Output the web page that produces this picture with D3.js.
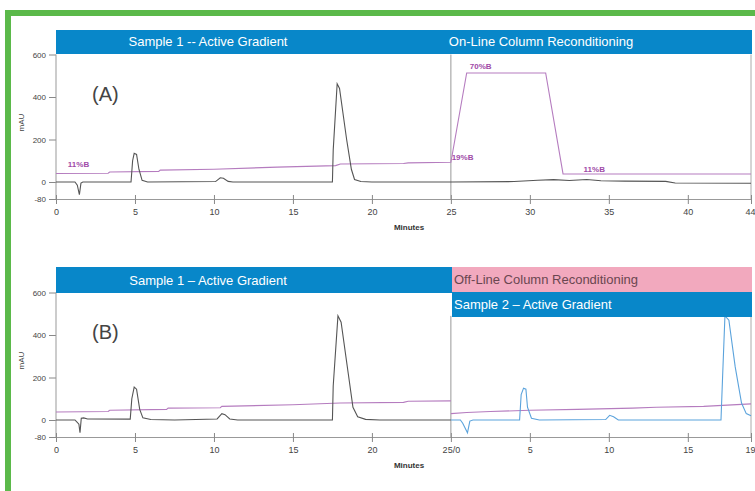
<!DOCTYPE html>
<html>
<head>
<meta charset="utf-8">
<script src="https://cdn.jsdelivr.net/npm/d3@7"></script>
<style>
  body { margin: 0; background: #fff; }
  svg { display: block; font-family: 'Liberation Sans', Arial, sans-serif; }
</style>
</head>
<body>
<div id="chart"></div>
<script>
// minutes on the x axis, mAU on the y axis
const yTicks = [600, 400, 200, 0, -80]
const xTicksA = [0, 5, 10, 15, 20, 25, 30, 35, 40, 44]
const xLabelsA = ['0', '5', '10', '15', '20', '25', '30', '35', '40', '44']
const xTicksB = [0, 5, 10, 15, 20, 25, 30, 35, 40, 44]
const xLabelsB = ['0', '5', '10', '15', '20', '25/0', '5', '10', '15', '19']

// trace A (sample 1 + on-line reconditioning)
const sigA = [[0,0],[1.2,0],[1.35,-15],[1.48,-60],[1.58,-5],[1.7,0],[4.75,0],[4.85,100],[4.95,135],[5.1,130],[5.25,60],[5.45,8],[5.8,0],[10.1,2],[10.4,20],[10.6,18],[10.9,3],[11.2,0],[17.5,0],[17.55,150],[17.8,462],[17.95,440],[18.4,200],[18.7,60],[18.9,12],[19.3,2],[20,0],[25,0],[29,2],[30.5,8],[31.5,11],[32.5,7],[33.6,12],[34.5,6],[36,4],[38.6,3],[39.2,-5],[44,-6]]
const gradA = [[0,40],[3.3,41],[3.4,47],[6.5,50],[6.6,56],[10,60],[14,70],[17.7,77],[18,85],[22,87],[22.3,90],[25,93],[26,513],[31,513],[32.1,38],[44,38]]
const gradLabelsA = [['11%B', 0.75, 70], ['70%B', 26.2, 530], ['19%B', 25.05, 105], ['11%B', 33.4, 48]]

// trace B (sample 1 then sample 2 on the second column)
const sigB1 = [[0,0],[1.2,0],[1.3,-8],[1.45,-20],[1.52,-60],[1.6,8],[1.75,10],[2,5],[4.7,4],[4.8,100],[4.95,155],[5.1,145],[5.3,50],[5.5,10],[6,2],[7.5,0],[10.2,5],[10.5,30],[10.7,25],[11,5],[11.5,0],[17.5,0],[17.55,160],[17.85,490],[18.05,460],[18.5,220],[18.8,60],[19.1,15],[19.6,3],[20.5,0],[25,0]]
const sigB2 = [[25,0],[25.6,0],[25.75,-15],[26.05,-60],[26.2,-5],[26.4,0],[29.35,0],[29.45,120],[29.6,150],[29.75,145],[29.85,60],[30.1,8],[30.6,0],[34.8,2],[35.05,22],[35.3,15],[35.6,0],[42.1,0],[42.2,200],[42.35,490],[42.6,470],[43,250],[43.4,80],[43.7,30],[44,20]]
const gradB1 = [[0,38],[3.3,40],[3.4,46],[7,50],[7.1,56],[10.4,58],[10.5,64],[15,72],[18,80],[22,83],[22.3,88],[25,90]]
const gradB2 = [[25,30],[26,35],[27.5,40],[30,46],[33,50],[36.5,56],[38,60],[41,64],[42.5,70],[44,76]]

const W = 755, H = 491
const svg = d3.select('#chart').append('svg').attr('width', W).attr('height', H)

svg.append('rect').attr('width', W).attr('height', H).attr('fill', '#fff')
// green frame
svg.append('rect')
  .attr('x', 8).attr('y', 13).attr('width', 800).attr('height', 600)
  .attr('fill', 'none').attr('stroke', '#5bb94a').attr('stroke-width', 6)

const x = d3.scaleLinear().domain([0, 44]).range([56, 751])

function panel (top, opts) {
  // top = y pixel of the 600 mAU level
  const y = d3.scaleLinear().domain([0, 600]).range([top + 127.5, top])
  const g = svg.append('g')

  const line = d3.line().x(d => x(d[0])).y(d => y(d[1]))

  // y axis
  const yAxis = d3.axisLeft(y).tickValues(yTicks).tickSize(7).tickFormat(d => d)
  const ya = g.append('g').attr('transform', 'translate(56,0)').call(yAxis)
  ya.select('.domain').remove()
  ya.selectAll('line').attr('stroke', '#888')
  ya.selectAll('text').attr('font-size', 8).attr('fill', '#444').attr('x', -10)
  g.append('line').attr('x1', 56).attr('x2', 56).attr('y1', y(600)).attr('y2', y(-80)).attr('stroke', '#999')
  g.append('line').attr('x1', 751).attr('x2', 751).attr('y1', y(600)).attr('y2', y(-80)).attr('stroke', '#aaa')

  // x axis
  const xAxis = d3.axisBottom(x).tickValues(opts.xTicks).tickSizeInner(5).tickSizeOuter(0)
    .tickFormat((d, i) => opts.xLabels[i])
  const xa = g.append('g').attr('transform', 'translate(0,' + y(-80) + ')').call(xAxis)
  xa.select('.domain').attr('stroke', '#999')
  xa.selectAll('line').attr('stroke', '#888').attr('y1', -4)
  xa.selectAll('text').attr('font-size', 9).attr('fill', '#444').attr('dy', '0.9em')
  // keep the last label inside the frame
  xa.selectAll('.tick').filter(d => d === 44).select('text')
    .attr('text-anchor', 'end').attr('dx', 4)
  g.append('text').attr('x', 409).attr('y', y(-80) + 31).attr('text-anchor', 'middle')
    .attr('font-size', 8).attr('fill', '#333').attr('font-weight', 'bold').text('Minutes')

  g.append('text').attr('transform', 'translate(24,' + y(280) + ') rotate(-90)')
    .attr('text-anchor', 'middle').attr('font-size', 8).attr('fill', '#444').text('mAU')

  // divider at 25 min
  g.append('line').attr('x1', x(25)).attr('x2', x(25)).attr('y1', y(opts.dividerTop)).attr('y2', y(-80))
    .attr('stroke', '#999')

  g.append('text').attr('x', 92).attr('y', y(380)).attr('font-size', 20).attr('fill', '#444')
    .text(opts.tag)

  opts.grads.forEach(gr => {
    g.append('path').datum(gr).attr('d', line).attr('fill', 'none')
      .attr('stroke', '#b57cbf').attr('stroke-width', 1.1)
  })
  opts.sigs.forEach((s, i) => {
    g.append('path').datum(s).attr('d', line).attr('fill', 'none')
      .attr('stroke', opts.sigColors[i]).attr('stroke-width', 1.1)
  })
  return { g, y }
}

// ----- panel A
const pa = panel(54.5, {
  xTicks: xTicksA, xLabels: xLabelsA, tag: '(A)', dividerTop: 600,
  grads: [gradA], sigs: [sigA], sigColors: ['#555']
})
pa.g.append('rect').attr('x', 56).attr('y', 30).attr('width', 696).attr('height', 24).attr('fill', '#0887c9')
pa.g.append('text').attr('x', 208).attr('y', 46).attr('text-anchor', 'middle').attr('fill', '#fff')
  .attr('font-size', 13).text('Sample 1 -- Active Gradient')
pa.g.append('text').attr('x', 541).attr('y', 46).attr('text-anchor', 'middle').attr('fill', '#fff')
  .attr('font-size', 13).text('On-Line Column Reconditioning')
gradLabelsA.forEach(l => {
  pa.g.append('text').attr('x', x(l[1])).attr('y', pa.y(l[2])).attr('font-size', 8)
    .attr('font-weight', 'bold').attr('fill', '#a04aa8').text(l[0])
})

// ----- panel B
const pb = panel(292.5, {
  xTicks: xTicksB, xLabels: xLabelsB, tag: '(B)', dividerTop: 490,
  grads: [gradB1, gradB2], sigs: [sigB1, sigB2], sigColors: ['#555', '#5ba3dc']
})
pb.g.append('rect').attr('x', 56).attr('y', 267).attr('width', 396).attr('height', 26).attr('fill', '#0887c9')
pb.g.append('text').attr('x', 208).attr('y', 285).attr('text-anchor', 'middle').attr('fill', '#fff')
  .attr('font-size', 13).text('Sample 1 – Active Gradient')
pb.g.append('rect').attr('x', 452).attr('y', 267).attr('width', 300).attr('height', 25).attr('fill', '#f2a9be')
pb.g.append('text').attr('x', 454).attr('y', 284).attr('fill', '#6a4650')
  .attr('font-size', 13).text('Off-Line Column Reconditioning')
pb.g.append('rect').attr('x', 452).attr('y', 292).attr('width', 300).attr('height', 25).attr('fill', '#0887c9')
pb.g.append('text').attr('x', 454).attr('y', 309).attr('fill', '#fff')
  .attr('font-size', 13).text('Sample 2 – Active Gradient')
</script>
</body>
</html>
